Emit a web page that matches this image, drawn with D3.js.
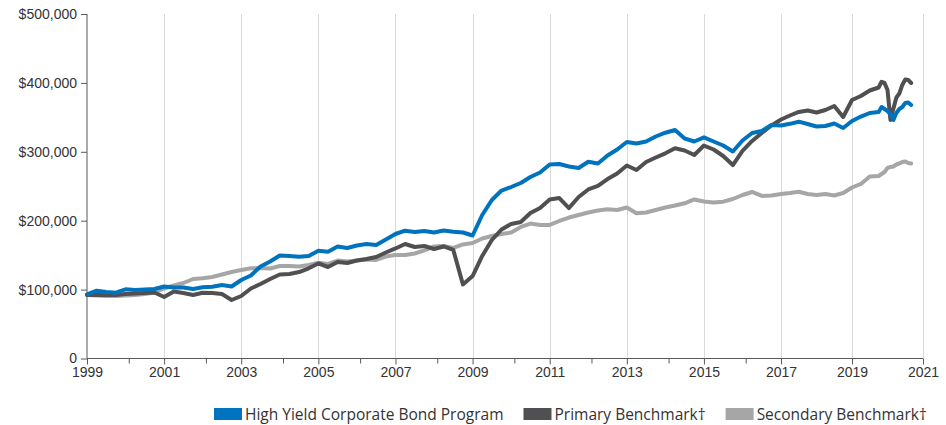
<!DOCTYPE html>
<html>
<head>
<meta charset="utf-8">
<script src="https://cdn.jsdelivr.net/npm/d3@7"></script>
<style>
  html, body { margin: 0; padding: 0; background: #ffffff; }
  svg { display: block; font-family: "Open Sans", "Noto Sans", sans-serif; }
</style>
</head>
<body>
<svg id="chart" width="946" height="425"></svg>
<script>
// ---------- DATA ----------
const dates = [
  "1999-01","1999-04","1999-07","1999-10",
  "2000-01","2000-04","2000-07","2000-10",
  "2001-01","2001-04","2001-07","2001-10",
  "2002-01","2002-04","2002-07","2002-10",
  "2003-01","2003-04","2003-07","2003-10",
  "2004-01","2004-04","2004-07","2004-10",
  "2005-01","2005-04","2005-07","2005-10",
  "2006-01","2006-04","2006-07","2006-10",
  "2007-01","2007-04","2007-07","2007-10",
  "2008-01","2008-04","2008-07","2008-10",
  "2009-01","2009-04","2009-07","2009-10",
  "2010-01","2010-04","2010-07","2010-10",
  "2011-01","2011-04","2011-07","2011-10",
  "2012-01","2012-04","2012-07","2012-10",
  "2013-01","2013-04","2013-07","2013-10",
  "2014-01","2014-04","2014-07","2014-10",
  "2015-01","2015-04","2015-07","2015-10",
  "2016-01","2016-04","2016-07","2016-10",
  "2017-01","2017-04","2017-07","2017-10",
  "2018-01","2018-04","2018-07","2018-10",
  "2019-01","2019-04","2019-07","2019-10",
  "2019-11","2019-12","2020-01","2020-02","2020-03","2020-04",
  "2020-05","2020-06","2020-07","2020-08","2020-09"
];

const highYieldProgram = [
  93200, 98400, 96500, 95500,
  100400, 99400, 100100, 100900,
  104500, 103000, 103000, 100900,
  103300, 104200, 106700, 104500,
  113900, 120500, 133500, 140800,
  149500, 148800, 147700, 148800,
  156500, 155000, 162600, 160400,
  164000, 166200, 164700, 172700,
  180700, 185500, 183600, 185000,
  182900, 185800, 184000, 182900,
  178500, 208300, 230000, 243800,
  248900, 254700, 263400, 270000,
  281600, 282300, 278700, 276500,
  285600, 283000, 294600, 303300,
  314200, 312000, 315000, 322200,
  327700, 331600, 319300, 315000,
  321000, 315000, 309100, 300400,
  316400, 327300, 330200, 338900,
  338200, 340600, 343700, 340300,
  336700, 337400, 341100, 334500,
  344700, 351200, 356300, 357800,
  365000, 362100, 359200, 354900, 346200, 356300,
  362100, 365000, 370800, 371600, 367900
];

const primaryBenchmark = [
  92200, 92200, 92200, 92200,
  93600, 94300, 95100, 95800,
  89300, 97200, 95100, 92200,
  95500, 95100, 93600, 84900,
  90700, 101600, 108100, 115400,
  121900, 122600, 125500, 130900,
  137900, 132800, 140000, 138600,
  142200, 144400, 147300, 153800,
  159700, 166200, 161800, 163300,
  158900, 162600, 157500, 107500,
  119700, 148800, 172000, 187200,
  195200, 198100, 211200, 218400,
  230800, 232900, 218400, 234400,
  245300, 250400, 260500, 268500,
  280100, 273600, 285200, 291700,
  297800, 305100, 301900, 295400,
  309100, 303300, 293900, 280800,
  301200, 315700, 327300, 338200,
  346900, 352700, 357800, 359900,
  357000, 360700, 366500, 350500,
  375200, 381000, 389000, 393300,
  401700, 399900, 389700, 346200, 362800, 378800,
  384600, 397000, 404900, 404200, 399900
];

const secondaryBenchmark = [
  92200, 91400, 90700, 90700,
  91400, 92200, 93600, 95800,
  101600, 105900, 109600, 115400,
  116400, 118300, 121900, 125500,
  128400, 130900, 131400, 130600,
  134300, 134300, 133500, 135700,
  139000, 137200, 142200, 140800,
  142200, 143700, 143000, 148000,
  150200, 150200, 152400, 156800,
  162600, 163300, 160400, 165500,
  167600, 174200, 177800, 180700,
  182900, 190900, 195900, 193800,
  193800, 199600, 204600, 208300,
  211900, 214800, 216500, 215500,
  219200, 210700, 211900, 215500,
  219200, 222100, 225300, 230800,
  227900, 226400, 227600, 231500,
  237300, 241700, 235900, 236600,
  238800, 240200, 242100, 238800,
  237300, 238800, 236600, 240200,
  248200, 253300, 264100, 264900,
  267800, 270700, 276500, 278000, 278700, 281600,
  283000, 285200, 285900, 283700, 283000
];

const seriesNames = ["High Yield Corporate Bond Program", "Primary Benchmark\u2020", "Secondary Benchmark\u2020"];
const yTicks = [0, 100000, 200000, 300000, 400000, 500000];
const xTickYears = [1999, 2001, 2003, 2005, 2007, 2009, 2011, 2013, 2015, 2017, 2019, 2021];
const xMinorYears = [2000, 2002, 2004, 2006, 2008, 2010, 2012, 2014, 2016];

(function () {
  // ---------- LAYOUT ----------
  const plotL = 87, plotR = 923, plotT = 14, plotB = 358.5;
  const colors = ["#0073bf", "#505052", "#a6a6a6"];

  const svg = d3.select("#chart");

  const toYear = s => { const [yy, mm] = s.split("-").map(Number); return yy + (mm - 1) / 12; };

  // the final years are slightly compressed on the source's axis
  const breakYear = 2017;
  const breakX = plotL + (plotR - plotL) * 0.8302;
  const x = d3.scaleLinear().domain([1999, breakYear, 2021]).range([plotL, breakX, plotR]);
  const y = d3.scaleLinear().domain([0, 500000]).range([plotB, plotT]);

  // gridlines
  svg.append("g").selectAll("line")
    .data(xTickYears.slice(1))
    .join("line")
    .attr("x1", d => Math.round(x(d)) + 0.5).attr("x2", d => Math.round(x(d)) + 0.5)
    .attr("y1", plotT).attr("y2", plotB)
    .attr("stroke", "#d9d9d9").attr("stroke-width", 1);

  // series
  const seriesData = [highYieldProgram, primaryBenchmark, secondaryBenchmark];
  const line = d3.line().x(d => x(d[0])).y(d => y(d[1]));
  [2, 1, 0].forEach(i => {
    const pts = dates.map((d, j) => [toYear(d), seriesData[i][j]]);
    svg.append("path")
      .datum(pts)
      .attr("d", line)
      .attr("fill", "none")
      .attr("stroke", colors[i])
      .attr("stroke-width", 4)
      .attr("stroke-linejoin", "round")
      .attr("stroke-linecap", "round");
  });

  // y axis
  const yAxis = svg.append("g")
    .attr("transform", `translate(${plotL},0)`)
    .call(d3.axisLeft(y).tickValues(yTicks).tickSize(6).tickPadding(4)
      .tickFormat(d => d === 0 ? "0" : "$" + d3.format(",")(d)));
  yAxis.select(".domain").attr("stroke", "#595959").attr("d", `M0,${plotT}V${plotB}`);
  yAxis.selectAll(".tick line").attr("stroke", "#595959");
  yAxis.selectAll("text").attr("fill", "#333").style("font-size", "14px");

  // x axis
  const xAxis = svg.append("g")
    .attr("transform", `translate(0,${plotB})`)
    .call(d3.axisBottom(x).tickValues(xTickYears).tickSize(6).tickPadding(3)
      .tickFormat(d3.format("d")));
  xAxis.select(".domain").attr("stroke", "#595959").attr("d", `M${plotL},0H${plotR}`);
  xAxis.selectAll(".tick line").attr("stroke", "#595959");
  xAxis.selectAll("text").attr("fill", "#333").style("font-size", "14px");

  const xMinor = svg.append("g")
    .attr("transform", `translate(0,${plotB})`)
    .call(d3.axisBottom(x).tickValues(xMinorYears.map(v => v + 1 / 12)).tickSize(5).tickFormat(""));
  xMinor.select(".domain").remove();
  xMinor.selectAll(".tick line").attr("stroke", "#595959");

  // legend: items laid out left to right with even gaps
  const lg = svg.append("g");
  let cursor = 214;
  seriesNames.forEach((name, i) => {
    const g = lg.append("g").attr("transform", `translate(${cursor},408)`);
    g.append("rect").attr("width", 28).attr("height", 12).attr("fill", colors[i]);
    const t = g.append("text").attr("x", 31).attr("y", 11.5)
      .attr("fill", "#333").style("font-size", "15.5px").text(name);
    cursor += 31 + t.node().getComputedTextLength() + 20;
  });
})();
</script>
</body>
</html>
